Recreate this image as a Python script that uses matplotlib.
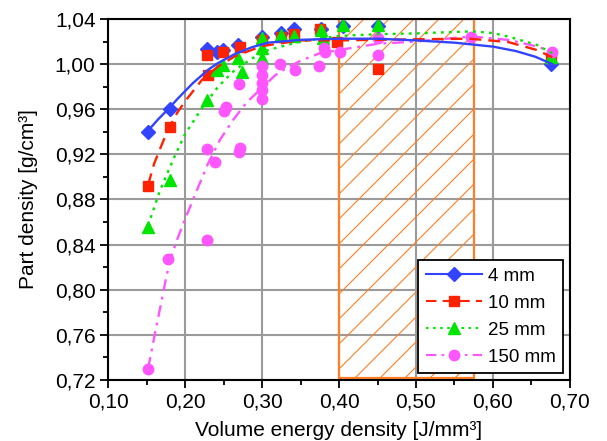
import numpy as np
import matplotlib
matplotlib.use('Agg')
import matplotlib.pyplot as plt
from matplotlib.lines import Line2D
from matplotlib.patches import Rectangle
from matplotlib.ticker import MultipleLocator, FuncFormatter

plt.rcParams['font.family'] = ['Liberation Sans', 'DejaVu Sans']

# measured points
x_4 = [0.152, 0.18, 0.228, 0.241, 0.249, 0.269, 0.30, 0.325, 0.342, 0.377, 0.405, 0.45, 0.675]
y_4 = [0.94, 0.96, 1.013, 1.011, 1.0125, 1.017, 1.024, 1.028, 1.031, 1.031, 1.0335, 1.034, 1.0]

x_10 = [0.152, 0.18, 0.228, 0.23, 0.249, 0.271, 0.30, 0.325, 0.342, 0.375, 0.397, 0.45, 0.675]
y_10 = [0.892, 0.944, 1.008, 0.99, 1.011, 1.0155, 1.021, 1.024, 1.027, 1.031, 1.02, 0.996, 1.005]

x_25 = [0.152, 0.18, 0.228, 0.241, 0.249, 0.269, 0.274, 0.30, 0.30, 0.30, 0.325, 0.342,
        0.377, 0.379, 0.405, 0.45, 0.675]
y_25 = [0.856, 0.897, 0.968, 0.995, 0.999, 1.005, 0.993, 1.023, 1.014, 1.005, 1.026, 1.025,
        1.030, 1.023, 1.035, 1.035, 1.006]

x_150 = [0.152, 0.178, 0.228, 0.228, 0.239, 0.25, 0.253, 0.27, 0.272, 0.27, 0.30, 0.30, 0.30,
         0.30, 0.30, 0.323, 0.343, 0.374, 0.38, 0.382, 0.401, 0.45, 0.45, 0.572, 0.677]
y_150 = [0.73, 0.827, 0.844, 0.9245, 0.913, 0.958, 0.962, 0.922, 0.926, 0.982, 0.969, 0.977, 0.983,
         0.99, 0.998, 1.0, 0.995, 0.998, 1.014, 1.011, 1.011, 1.023, 1.008, 1.024, 1.011]

# trend curves
cx_4 = [0.152, 0.165, 0.178, 0.19, 0.20, 0.21, 0.22, 0.23, 0.243, 0.265, 0.287, 0.308, 0.35,
        0.40, 0.45, 0.50, 0.55, 0.60, 0.63, 0.655, 0.677]
cy_4 = [0.941, 0.951, 0.960, 0.969, 0.976, 0.983, 0.989, 0.995, 1.001, 1.009, 1.015, 1.019, 1.0215,
        1.0225, 1.0225, 1.021, 1.019, 1.0155, 1.0115, 1.0065, 1.0]

cx_10 = [0.152, 0.16, 0.17, 0.178, 0.19, 0.20, 0.222, 0.243, 0.265, 0.30, 0.35, 0.40, 0.45,
         0.50, 0.57, 0.62, 0.657, 0.677]
cy_10 = [0.893, 0.912, 0.929, 0.942, 0.957, 0.967, 0.986, 0.998, 1.007, 1.016, 1.021, 1.021, 1.0215,
         1.022, 1.0225, 1.0195, 1.0125, 1.006]

cx_25 = [0.152, 0.1675, 0.185, 0.20, 0.222, 0.243, 0.265, 0.287, 0.308, 0.35, 0.40, 0.45, 0.50,
         0.55, 0.574, 0.60, 0.622, 0.657, 0.677]
cy_25 = [0.857, 0.888, 0.916, 0.938, 0.961, 0.980, 0.995, 1.005, 1.0125, 1.020, 1.025, 1.0265, 1.0272,
         1.0285, 1.029, 1.0275, 1.024, 1.017, 1.0096]

cx_150 = [0.152, 0.160, 0.168, 0.175, 0.1805, 0.19, 0.198, 0.211, 0.230, 0.2455, 0.263, 0.28, 0.30,
          0.317, 0.3255, 0.35, 0.375, 0.40, 0.45, 0.50, 0.572, 0.622, 0.657, 0.677]
cy_150 = [0.730, 0.758, 0.785, 0.809, 0.826, 0.845, 0.859, 0.881, 0.912, 0.933, 0.951, 0.966, 0.979,
          0.990, 0.994, 1.003, 1.0096, 1.0125, 1.018, 1.020, 1.0245, 1.0213, 1.0156, 1.011]

labels = ['4 mm', '10 mm', '25 mm', '150 mm']
window_x0 = 0.40
window_x1 = 0.575

fig = plt.figure(figsize=(6.07, 4.41), dpi=100)
ax = fig.add_axes([0.178, 0.1383, 0.761, 0.8187])

xmin, xmax, ymin, ymax = 0.10, 0.70, 0.72, 1.04
ax.set_xlim(xmin, xmax)
ax.set_ylim(ymin, ymax)

orange = '#FF7F27'
# hatched process window
rect = Rectangle((window_x0, ymin + 0.0015), window_x1 - window_x0, ymax - ymin - 0.0015,
                 facecolor='none', edgecolor=orange, lw=1.6, zorder=2)
ax.add_patch(rect)
clip = Rectangle((window_x0, ymin), window_x1 - window_x0, ymax - ymin,
                 transform=ax.transData, facecolor='none', edgecolor='none')
ax.add_patch(clip)
# 45 degree lines in pixel space, ~25 px apart
px_x = (xmax - xmin) / 462.0
step = 25 * px_x
span = 361 * px_x
s = window_x0 - span
while s < window_x1:
    hl, = ax.plot([s, s + span], [ymin, ymax], color=orange, lw=0.8, zorder=2)
    hl.set_clip_path(clip)
    s += step

styles = [
    ('#3344FF', '-', 'D', 7.0, x_4, y_4, cx_4, cy_4),
    ('#FF2200', (0, (5, 3)), 's', 6.5, x_10, y_10, cx_10, cy_10),
    ('#00E600', (0, (1.2, 2.2)), '^', 8.0, x_25, y_25, cx_25, cy_25),
    ('#FF55FF', (0, (5, 2.5, 1.2, 2.5)), 'o', 7.5, x_150, y_150, cx_150, cy_150),
]

handles = []
for i, (col, ls, mk, ms, px, py, cx, cy) in enumerate(styles):
    ax.plot(px, py, linestyle='none', marker=mk, ms=ms, color=col, mec=col, zorder=4 + i * 0.1)
for i, (col, ls, mk, ms, px, py, cx, cy) in enumerate(styles):
    ax.plot(cx, cy, linestyle=ls, color=col, lw=1.7, zorder=5 - i * 0.1)
    handles.append(Line2D([], [], color=col, linestyle=ls, lw=1.5, marker=mk, ms=ms))

ax.grid(True, color='#9a9a9a', lw=1.5, zorder=1)
ax.set_axisbelow(True)
for sp in ax.spines.values():
    sp.set_linewidth(1.5)
    sp.set_zorder(6)

ax.xaxis.set_major_locator(MultipleLocator(0.10))
ax.xaxis.set_minor_locator(MultipleLocator(0.05))
ax.yaxis.set_major_locator(MultipleLocator(0.04))
ax.yaxis.set_minor_locator(MultipleLocator(0.02))
comma = FuncFormatter(lambda v, p: f'{v:.2f}'.replace('.', ','))
ax.xaxis.set_major_formatter(comma)
ax.yaxis.set_major_formatter(comma)
ax.tick_params(which='major', direction='out', length=6, width=1.3, labelsize=15, pad=3)
ax.tick_params(which='minor', direction='out', length=3.5, width=1.3)
ax.tick_params(top=False, right=False)

ax.set_ylabel('Part density [g/cm³]', fontsize=15, labelpad=12)
ax.set_xlabel('Volume energy density [J/mm³]', fontsize=15, labelpad=7)

leg = ax.legend(handles, labels, loc='lower right', bbox_to_anchor=(0.985, 0.019),
                borderaxespad=0, fontsize=13.5, handlelength=3.0, handletextpad=0.3,
                labelspacing=0.52, borderpad=0.4, fancybox=False, framealpha=1,
                edgecolor='black')
leg.get_frame().set_linewidth(1.3)
leg.set_zorder(7)

fig.savefig('out.png', dpi=100)
